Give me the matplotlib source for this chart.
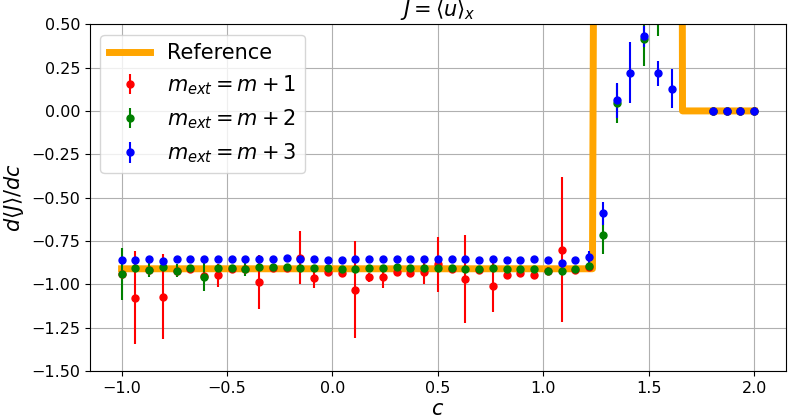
import numpy as np
import matplotlib
matplotlib.use('Agg')
import matplotlib.pyplot as plt

nan = np.nan

# sample points in c
c = np.linspace(-1.0, 2.0, 47)

# reference curve (goes far off the top between the two jumps)
c_ref = [-1.0, 1.233, 1.245, 1.655, 1.66, 2.0]
y_ref = [-0.91, -0.91, 3.0, 3.0, 0.0, 0.0]

# m_ext = m + 1
y_m1 = [-0.94, -1.076, -0.918, -1.071, -0.92, -0.91, -0.95, -0.948, -0.91, -0.91,
        -0.985, -0.905, -0.905, -0.846, -0.966, -0.931, -0.937, -1.03, -0.96, -0.955,
        -0.931, -0.937, -0.927, -0.885, -0.91, -0.97, -0.915, -1.012, -0.943, -0.937,
        -0.947, -0.92, -0.80, -0.915, -0.90, nan, nan, nan, nan, nan,
        nan, nan, nan, 0.0, 0.0, 0.0, 0.0]
e_m1 = [0.02, 0.266, 0.02, 0.245, 0.02, 0.02, 0.02, 0.068, 0.02, 0.02,
        0.157, 0.02, 0.02, 0.151, 0.055, 0.02, 0.02, 0.279, 0.025, 0.065,
        0.02, 0.02, 0.07, 0.16, 0.02, 0.253, 0.02, 0.146, 0.02, 0.02,
        0.02, 0.02, 0.418, 0.02, 0.02, nan, nan, nan, nan, nan,
        nan, nan, nan, 0.0, 0.0, 0.0, 0.0]

# m_ext = m + 2
y_m2 = [-0.942, -0.908, -0.918, -0.897, -0.92, -0.908, -0.958, -0.908, -0.908, -0.914,
        -0.902, -0.902, -0.902, -0.908, -0.908, -0.908, -0.914, -0.914, -0.908, -0.908,
        -0.897, -0.908, -0.908, -0.908, -0.908, -0.914, -0.914, -0.908, -0.914, -0.914,
        -0.914, -0.92, -0.924, -0.914, -0.895, -0.718, 0.043, nan, 0.417, 0.60,
        nan, nan, nan, 0.0, 0.0, 0.0, 0.0]
e_m2 = [0.149, 0.015, 0.04, 0.02, 0.035, 0.015, 0.079, 0.015, 0.015, 0.035,
        0.015, 0.015, 0.015, 0.015, 0.015, 0.015, 0.015, 0.015, 0.015, 0.015,
        0.015, 0.015, 0.015, 0.015, 0.015, 0.015, 0.015, 0.015, 0.015, 0.015,
        0.015, 0.015, 0.015, 0.015, 0.015, 0.106, 0.111, nan, 0.158, 0.17,
        nan, nan, nan, 0.0, 0.0, 0.0, 0.0]

# m_ext = m + 3
y_m3 = [-0.862, -0.862, -0.856, -0.868, -0.851, -0.856, -0.856, -0.856, -0.856, -0.851,
        -0.851, -0.851, -0.845, -0.856, -0.851, -0.862, -0.862, -0.856, -0.856, -0.851,
        -0.856, -0.856, -0.851, -0.851, -0.856, -0.856, -0.862, -0.856, -0.862, -0.862,
        -0.856, -0.862, -0.874, -0.862, -0.843, -0.591, 0.062, 0.221, 0.431, 0.216,
        0.129, nan, nan, 0.0, 0.0, 0.0, 0.0]
e_m3 = [0.01] * 34 + [0.033, 0.067, 0.10, 0.175, 0.06, 0.072,
                      0.114, nan, nan, 0.0, 0.0, 0.0, 0.0]

fig = plt.figure(figsize=(7.89, 4.17), dpi=100)
ax = fig.add_axes([0.114, 0.110, 0.882, 0.832])

ax.plot(c_ref, y_ref, color='orange', lw=5, label='Reference')
ax.errorbar(c, y_m1, yerr=e_m1, fmt='o', color='red', ms=5, label=r'$m_{ext} = m+1$')
ax.errorbar(c, y_m2, yerr=e_m2, fmt='o', color='green', ms=5, label=r'$m_{ext} = m+2$')
ax.errorbar(c, y_m3, yerr=e_m3, fmt='o', color='blue', ms=5, label=r'$m_{ext} = m+3$')

ax.set_xlim(-1.15, 2.15)
ax.set_ylim(-1.5, 0.5)
ax.set_yticks(np.arange(-1.5, 0.51, 0.25))
ax.tick_params(labelsize=11.5)
ax.grid(True)
ax.set_title(r'$J = \langle u \rangle_x$', fontsize=15)
ax.set_xlabel(r'$c$', fontsize=15, labelpad=2)
ax.set_ylabel(r'$d\langle J\rangle/dc$', fontsize=15)
ax.legend(loc='upper left', fontsize=15)

fig.savefig('out.png', dpi=100)
